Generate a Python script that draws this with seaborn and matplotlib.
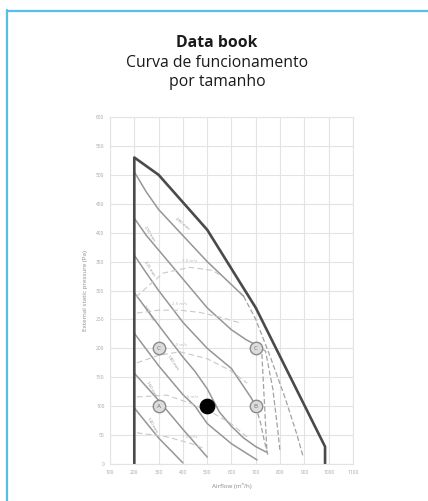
import seaborn as sns
import matplotlib.pyplot as plt
from matplotlib.lines import Line2D

# Airflow (m3/h) ticks and static pressure (Pa) ticks
x_ticks = [100, 200, 300, 400, 500, 600, 700, 800, 900, 1000, 1100]
y_ticks = [0, 50, 100, 150, 200, 250, 300, 350, 400, 450, 500, 550, 600]

# Outer envelope of the range
env_x = [200, 200, 300, 500, 700, 985, 985]
env_y = [0, 530, 500, 405, 270, 30, 0]

# Solid curves per size (start at the left limit)
s1_x = [200, 250, 300, 400, 500, 600, 650]
s1_y = [505, 470, 440, 395, 350, 310, 290]
s2_x = [200, 250, 300, 400, 500, 600, 660, 705]
s2_y = [425, 395, 370, 320, 270, 232, 215, 205]
s3_x = [200, 250, 300, 400, 500, 600, 680, 700]
s3_y = [361, 330, 300, 245, 200, 165, 115, 100]
s4_x = [200, 300, 400, 450, 500, 550, 600, 650, 700, 746]
s4_y = [296, 240, 185, 160, 130, 90, 65, 45, 30, 20]
s5_x = [200, 300, 400, 450, 500, 600, 705]
s5_y = [226, 170, 120, 100, 70, 35, 7]
s6_x = [200, 300, 400, 500]
s6_y = [157, 110, 60, 12]
s7_x = [200, 300, 400]
s7_y = [97, 45, 2]
sizes = ['280 mm', '250 mm', '225 mm', '200 mm', '180 mm', '160 mm', '140 mm']

# Dashed tails beyond the knee
t1_x = [650, 700, 760, 820, 870, 895]
t1_y = [290, 250, 185, 115, 50, 12]
t2_x = [705, 740, 770, 790, 800]
t2_y = [205, 195, 130, 60, 20]
t3_x = [705, 725, 735, 746]
t3_y = [200, 190, 110, 20]
t4_x = [700, 720, 735, 750]
t4_y = [100, 70, 40, 15]

# Light dashed reference lines
d1_x = [207, 318, 429, 520, 560]
d1_y = [289, 330, 340, 335, 325]
d2_x = [211, 300, 388, 470, 553, 635]
d2_y = [261, 266, 266, 262, 254, 244]
d3_x = [211, 300, 388, 500, 594, 664]
d3_y = [175, 188, 194, 182, 162, 140]
d4_x = [211, 334, 430, 524, 594, 664]
d4_y = [116, 119, 105, 88, 71, 47]
d5_x = [211, 334, 429, 480]
d5_y = [54, 47, 36, 28]
d_labels = ['3.0 m/s', '2.5 m/s', '2.0 m/s', '1.5 m/s', '1.0 m/s']

# Operating points
pt_x = [300, 700, 300, 700]
pt_y = [200, 200, 100, 100]
pt_labels = ['C', 'C', 'A', 'B']
sel_x = [500]
sel_y = [100]

sns.set_style('white')
plt.rcParams['font.family'] = ['Open Sans', 'DejaVu Sans']

fig = plt.figure(figsize=(4.28, 5.01), dpi=100)
ax = fig.add_axes([110 / 428, 1 - 464 / 501, 243 / 428, 347 / 501])

solid = [(s1_x, s1_y), (s2_x, s2_y), (s3_x, s3_y), (s4_x, s4_y),
         (s5_x, s5_y), (s6_x, s6_y), (s7_x, s7_y)]
for sx, sy in solid:
    sns.lineplot(x=sx, y=sy, sort=False, estimator=None, color='#969696', lw=1.1, ax=ax)

for tx, ty in [(t1_x, t1_y), (t2_x, t2_y), (t3_x, t3_y), (t4_x, t4_y)]:
    sns.lineplot(x=tx, y=ty, sort=False, estimator=None, color='#a2a2a2', lw=0.9,
                 ax=ax, linestyle=(0, (4, 2)))

dashed = [(d1_x, d1_y), (d2_x, d2_y), (d3_x, d3_y), (d4_x, d4_y), (d5_x, d5_y)]
for (dx, dy), lab in zip(dashed, d_labels):
    sns.lineplot(x=dx, y=dy, sort=False, estimator=None, color='#c8c8c8', lw=0.8,
                 ax=ax, linestyle=(0, (5, 3)))
    ax.text(dx[2], dy[2] + 8, lab, fontsize=3.2, color='#bababa', ha='center', va='bottom')

sns.lineplot(x=env_x, y=env_y, sort=False, estimator=None, color='#4a4a4a', lw=1.9, ax=ax)

# size labels along the curves
lab_pos = [(395, 415, -40), (262, 398, -58), (262, 338, -58), (258, 262, -58),
           (360, 175, -55), (268, 130, -60), (275, 68, -60)]
for (lx, ly, rot), lab in zip(lab_pos, sizes):
    ax.text(lx, ly, lab, fontsize=3.2, color='#909090', rotation=rot, ha='center', va='center')

sns.scatterplot(x=pt_x, y=pt_y, s=80, color='#dcdcdc', edgecolor='#8a8a8a', linewidth=1.0,
                ax=ax, zorder=5)
for px, py, lab in zip(pt_x, pt_y, pt_labels):
    ax.text(px, py, lab, fontsize=4.5, color='#707070', ha='center', va='center', zorder=6)
sns.scatterplot(x=sel_x, y=sel_y, s=110, color='black', edgecolor='black', ax=ax, zorder=6)

ax.set_xlim(100, 1100)
ax.set_ylim(0, 600)
ax.set_xticks(x_ticks)
ax.set_yticks(y_ticks)
ax.grid(True, color='#e3e3e3', lw=0.8)
ax.tick_params(labelsize=3.5, labelcolor='#a5a5a5', length=0, pad=4)
for sp in ax.spines.values():
    sp.set_color('#e3e3e3')
    sp.set_linewidth(0.8)
ax.set_xlabel('Airflow (m³/h)', fontsize=4.5, color='#8a8a8a', labelpad=6)
ax.set_ylabel('External static pressure (Pa)', fontsize=4.5, color='#8a8a8a', labelpad=6)

fig.text(217 / 428, 1 - 43 / 501, 'Data book', ha='center', va='center',
         fontsize=11.3, fontweight='bold', color='#1a1a1a')
fig.text(217 / 428, 1 - 63 / 501, 'Curva de funcionamento', ha='center', va='center',
         fontsize=11.3, color='#1a1a1a')
fig.text(217 / 428, 1 - 82 / 501, 'por tamanho', ha='center', va='center',
         fontsize=11.3, color='#1a1a1a')

# blue frame (left and top edges)
fig.add_artist(Line2D([7 / 428, 7 / 428], [0, 1 - 10 / 501], color='#55bfea', lw=1.6))
fig.add_artist(Line2D([7 / 428, 1], [1 - 11 / 501, 1 - 11 / 501], color='#55bfea', lw=1.6))

fig.savefig('out.png', dpi=100)
